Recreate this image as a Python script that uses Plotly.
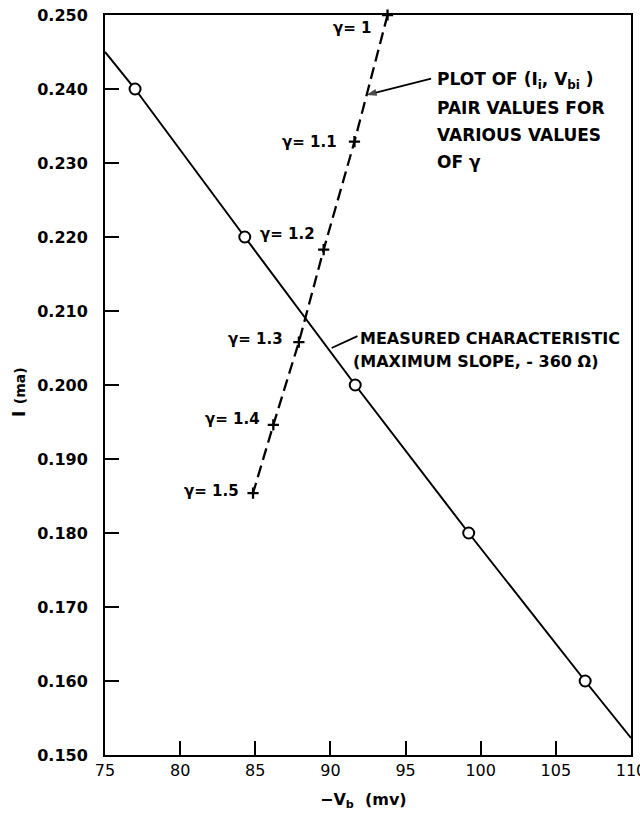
import plotly.graph_objects as go

# Measured characteristic (solid line) and measured points (open circles)
line_v = [75.0, 77.0, 84.3, 91.65, 99.2, 106.95, 110.0]
line_i = [0.245, 0.240, 0.220, 0.200, 0.180, 0.160, 0.1523]
meas_v = [77.0, 84.3, 91.65, 99.2, 106.95]
meas_i = [0.240, 0.220, 0.200, 0.180, 0.160]

# (I_i, V_bi) pair values for various gamma
gamma_labels = ["γ= 1", "γ= 1.1", "γ= 1.2", "γ= 1.3", "γ= 1.4", "γ= 1.5"]
gamma_v = [93.8, 91.6, 89.55, 87.9, 86.2, 84.85]
gamma_i = [0.2500, 0.2329, 0.2183, 0.2058, 0.1946, 0.1854]
label_dx = [-15, -15, -7, -14, -11, -12]
label_dy = [-13, 0, 16, 3, 6, 2]

# Callout leader lines (tail -> tip)
arrow1_v = [96.7, 92.38]
arrow1_i = [0.2414, 0.2392]
arrow2_v = [91.8, 90.08]
arrow2_i = [0.2066, 0.2050]

note1_lines = ["PLOT OF (I<sub>i</sub>, V<sub>bi</sub> )", "PAIR VALUES FOR",
               "VARIOUS VALUES", "OF γ"]
note2_lines = ["MEASURED CHARACTERISTIC", "(MAXIMUM SLOPE, - 360 Ω)"]

x_ticks = [75, 80, 85, 90, 95, 100, 105, 110]
y_ticks = [0.150, 0.160, 0.170, 0.180, 0.190, 0.200, 0.210, 0.220, 0.230, 0.240, 0.250]

FONT = "DejaVu Sans"

fig = go.Figure()
fig.add_trace(go.Scatter(x=line_v, y=line_i, mode="lines",
                         line=dict(color="black", width=2), hoverinfo="skip"))
fig.add_trace(go.Scatter(x=gamma_v, y=gamma_i, mode="lines+markers",
                         line=dict(color="black", width=2.3, dash="12px,6px"),
                         marker=dict(symbol="cross-thin", size=8,
                                     line=dict(color="black", width=2.3)),
                         cliponaxis=False))
fig.add_trace(go.Scatter(x=meas_v, y=meas_i, mode="markers",
                         marker=dict(symbol="circle", size=11, color="white",
                                     line=dict(color="black", width=2))))
fig.add_trace(go.Scatter(x=arrow1_v, y=arrow1_i, mode="lines+markers",
                         line=dict(color="black", width=1.8),
                         marker=dict(symbol="arrow", angleref="previous", size=[0, 11],
                                     color="black", line=dict(color="black", width=0))))
fig.add_trace(go.Scatter(x=arrow2_v, y=arrow2_i, mode="lines",
                         line=dict(color="black", width=1.8)))

ann = []
for lab, v, i, dx, dy in zip(gamma_labels, gamma_v, gamma_i, label_dx, label_dy):
    ann.append(dict(x=v, y=i, xref="x", yref="y", text=lab, showarrow=False,
                    xanchor="right", yanchor="middle", xshift=dx, yshift=dy,
                    font=dict(family=FONT, size=15, color="black", weight="bold")))

for k, t in enumerate(note1_lines):
    ann.append(dict(x=arrow1_v[0], y=arrow1_i[0], xref="x", yref="y", text=t,
                    showarrow=False, xanchor="left", yanchor="middle",
                    xshift=4, yshift=-2 - 27 * k,
                    font=dict(family=FONT, size=17, color="black", weight="bold")))
for k, t in enumerate(note2_lines):
    ann.append(dict(x=arrow2_v[0], y=arrow2_i[0], xref="x", yref="y", text=t,
                    showarrow=False, xanchor="left", yanchor="middle",
                    xshift=(1 if k == 0 else -6), yshift=-2 - 23 * k,
                    font=dict(family=FONT, size=16, color="black", weight="bold")))

# Axis titles
ann.append(dict(x=0.492, y=-0.061, xref="paper", yref="paper", showarrow=False,
                text="−V<sub>b</sub>  (mv)", xanchor="center", yanchor="middle",
                font=dict(family=FONT, size=16, color="black", weight="bold")))
ann.append(dict(x=-0.164, y=0.49, xref="paper", yref="paper", showarrow=False,
                text="I <span style='font-size:14px'>(ma)</span>", textangle=-90,
                xanchor="center", yanchor="middle",
                font=dict(family=FONT, size=18, color="black", weight="bold")))

fig.update_layout(
    width=640, height=818,
    margin=dict(l=105, r=9, t=15, b=63, autoexpand=False),
    paper_bgcolor="white", plot_bgcolor="white",
    showlegend=False,
    annotations=ann,
    font=dict(family=FONT, color="black"),
)
fig.update_xaxes(range=[75, 110], tickvals=x_ticks, ticktext=[str(t) for t in x_ticks],
                 ticks="inside", ticklen=14, tickwidth=2, tickcolor="black",
                 showline=True, linewidth=2, linecolor="black", mirror=True,
                 showgrid=False, zeroline=False, ticklabeloverflow="allow",
                 automargin=False,
                 tickfont=dict(family=FONT, size=16, color="black"))
fig.update_yaxes(range=[0.150, 0.250], tickvals=y_ticks,
                 ticktext=[f"{t:.3f}" for t in y_ticks],
                 ticks="inside", ticklen=14, tickwidth=2, tickcolor="black",
                 showline=True, linewidth=2, linecolor="black", mirror=True,
                 showgrid=False, zeroline=False, ticklabelstandoff=12,
                 ticklabeloverflow="allow", automargin=False,
                 tickfont=dict(family=FONT, size=16, color="black", weight="bold"))

fig.write_html("out.html")
